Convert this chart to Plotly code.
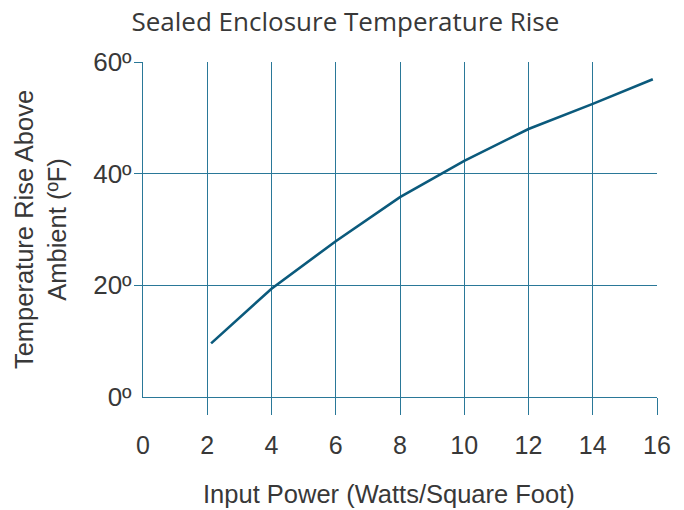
import plotly.graph_objects as go

power = [2.12, 4, 6, 8, 10, 12, 14, 15.87]
rise = [9.6, 19.4, 27.9, 35.8, 42.3, 48.0, 52.5, 56.9]

x_ticks = [0, 2, 4, 6, 8, 10, 12, 14, 16]
y_ticks = [0, 20, 40, 60]
y_labels = ["0º", "20º", "40º", "60º"]

grid_color = "#2a7898"
line_color = "#0b5a7c"
text_color = "#383838"
sans = "Liberation Sans, Arial, sans-serif"

fig = go.Figure()
fig.add_trace(go.Scatter(x=power, y=rise, mode="lines",
                         line=dict(color=line_color, width=2.6),
                         showlegend=False, hoverinfo="skip"))

fig.update_layout(
    width=684, height=510,
    margin=dict(l=143, r=27, t=62, b=113),
    paper_bgcolor="white", plot_bgcolor="white",
    title=dict(text="Sealed Enclosure Temperature Rise", x=0.505, xanchor="center",
               y=0.958, yanchor="middle",
               font=dict(family="Open Sans", size=26, color=text_color)),
    xaxis=dict(range=[0, 16], tickvals=x_ticks, ticktext=[str(v) for v in x_ticks],
               showgrid=True, gridcolor=grid_color, gridwidth=1.4,
               ticks="", ticklabelstandoff=26,
               minor=dict(tickvals=x_ticks[1:], ticks="outside", ticklen=17,
                          tickcolor=grid_color, tickwidth=1.4, showgrid=False),
               showline=True, linecolor=grid_color, linewidth=1.4, zeroline=False,
               tickfont=dict(family=sans, size=25, color=text_color)),
    yaxis=dict(range=[0, 60], tickvals=y_ticks, ticktext=y_labels,
               showgrid=True, gridcolor=grid_color, gridwidth=1.4,
               ticks="", ticklabelstandoff=5,
               minor=dict(tickvals=y_ticks[1:], ticks="outside", ticklen=8,
                          tickcolor=grid_color, tickwidth=1.4, showgrid=False),
               showline=True, linecolor=grid_color, linewidth=1.4, zeroline=False,
               tickfont=dict(family=sans, size=26, color=text_color),
               title=dict(text="Temperature Rise Above<br>Ambient (ºF)", standoff=19,
                          font=dict(family=sans, size=25.5, color=text_color))),
    annotations=[dict(text="Input Power (Watts/Square Foot)", xref="paper", yref="paper",
                      x=0.478, y=-0.29, xanchor="center", yanchor="middle",
                      showarrow=False,
                      font=dict(family=sans, size=25.5, color=text_color))],
)

fig.write_html("out.html", config={"displayModeBar": False},
               post_script="document.body.style.margin='0';")
